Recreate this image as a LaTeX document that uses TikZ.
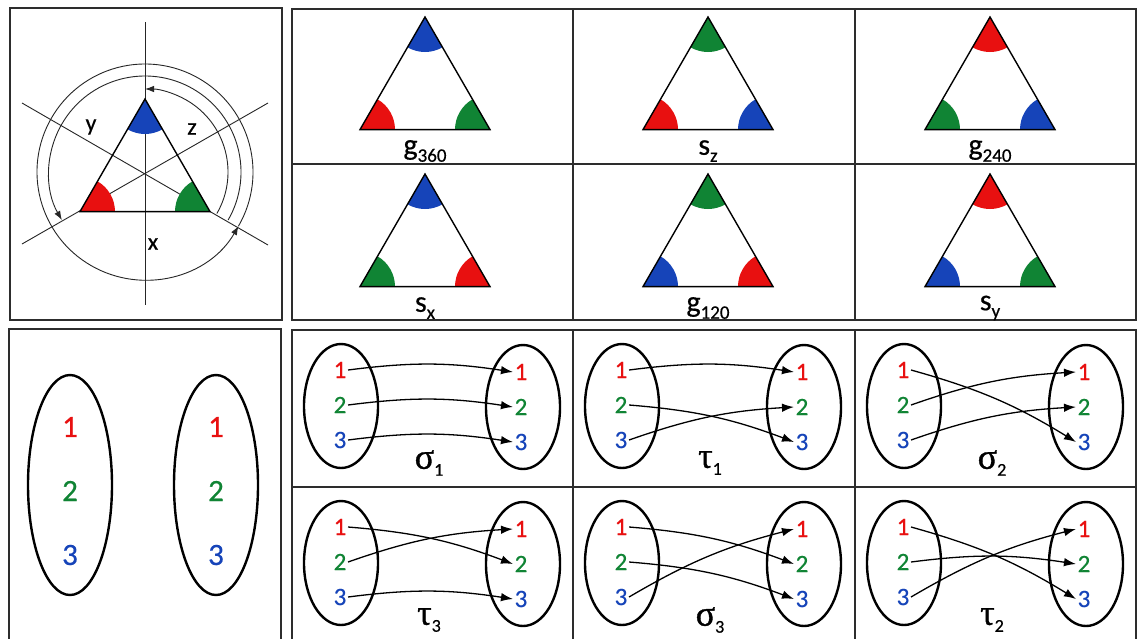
\documentclass[tikz,border=0pt]{standalone}
\usepackage{fontspec}
\setmainfont{Carlito}[FakeBold=0.5]
\newfontfamily\grk{Liberation Serif}[FakeBold=1]
\usetikzlibrary{arrows.meta}
\definecolor{cr}{RGB}{232,16,16}
\definecolor{cg}{RGB}{16,132,52}
\definecolor{cb}{RGB}{22,68,185}
\definecolor{frm}{RGB}{45,45,45}
\newcommand\sublab[2]{#1\raisebox{-7pt}{\fontsize{19}{19}\selectfont #2}}
\newcommand\grklab[2]{{\grk\fontsize{36}{36}\selectfont #1}\raisebox{-7pt}{\fontsize{18}{18}\selectfont #2}}
\newcommand\trianglecell[7]{%
 \begin{scope}[shift={(#1,#2)}]
  \fill[#3] (0,0) -- (240:35) arc[start angle=240,end angle=300,radius=35] -- cycle;
  \fill[#4] (-65,-112.6) -- ++(0:35) arc[start angle=0,end angle=60,radius=35] -- cycle;
  \fill[#5] (65,-112.6) -- ++(180:35) arc[start angle=180,end angle=120,radius=35] -- cycle;
  \draw[tri] (0,0) -- (-65,-112.6) -- (65,-112.6) -- cycle;
  \node[tlab] (#7) at (0,-134) {#6};
 \end{scope}}
\newcommand\permcell[7]{%
 \begin{scope}[shift={(#1,-#2)}]
  \draw[ell] (49,-76) ellipse[x radius=37,y radius=62];
  \draw[ell] (231,-77) ellipse[x radius=37,y radius=62];
  \node[num,text=cr] (#7l1) at (48,-40) {1};
  \node[num,text=cg] (#7l2) at (48,-75) {2};
  \node[num,text=cb] (#7l3) at (48,-110) {3};
  \node[num,text=cr] (#7r1) at (229,-42) {1};
  \node[num,text=cg] (#7r2) at (229,-77) {2};
  \node[num,text=cb] (#7r3) at (229,-112) {3};
  \draw[arr] (#7l1.east) to[bend left=8] (#7r#3.west);
  \draw[arr] (#7l2.east) to[bend left=8] (#7r#4.west);
  \draw[arr] (#7l3.east) to[bend left=8] (#7r#5.west);
  \node[inner sep=0pt] (#7lab) at (137,-133) {#6};
 \end{scope}}
\begin{document}
\begin{tikzpicture}[x=1pt,y=1pt,
  frame/.style={draw=frm,line width=1.3pt},
  tri/.style={draw=black,line width=1.4pt,line join=miter},
  tlab/.style={font=\fontsize{30}{30}\selectfont,inner sep=0pt},
  thinline/.style={draw=black!85,line width=0.9pt},
  ell/.style={draw=black,line width=2.4pt},
  num/.style={font=\fontsize{25}{25}\selectfont,inner sep=1.5pt},
  bignum/.style={font=\fontsize{31}{31}\selectfont,inner sep=2pt},
  arr/.style={-{Latex[length=12pt,width=8.5pt]},line width=1.3pt},
  rarr/.style={thinline,-{Latex[length=9pt,width=6.5pt]}},
  axlab/.style={font=\fontsize{24}{24}\selectfont,inner sep=0pt}]
\useasboundingbox (0,0) rectangle (1140,-638);
\clip (0,0) rectangle (1140,-638);
\fill[white] (0,0) rectangle (1140,-638);

% ---------- top-left panel ----------
\draw[frame] (10,-8) rectangle (282,-320);
\coordinate (c0) at (145,-172);
\draw[thinline] (145,-22) -- (145,-305);
\draw[thinline] (22,-103) -- (268,-245);
\draw[thinline] (22,-244) -- (268,-103);
\draw[rarr] ([shift={(-30:83)}]c0) arc[start angle=-30,end angle=90,radius=83];
\draw[rarr] ([shift={(-30:96)}]c0) arc[start angle=-30,end angle=210,radius=96];
\draw[rarr] ([shift={(-30:108)}]c0) arc[start angle=-30,end angle=330,radius=108];
\begin{scope}[shift={(145,-99)}]
  \fill[cb] (0,0) -- (240:35) arc[start angle=240,end angle=300,radius=35] -- cycle;
  \fill[cr] (-65,-112.6) -- ++(0:35) arc[start angle=0,end angle=60,radius=35] -- cycle;
  \fill[cg] (65,-112.6) -- ++(180:35) arc[start angle=180,end angle=120,radius=35] -- cycle;
  \draw[tri] (0,0) -- (-65,-112.6) -- (65,-112.6) -- cycle;
\end{scope}
\node[axlab] (ly) at (91,-127) {y};
\node[axlab] (lz) at (192,-129) {z};
\node[axlab] (lx) at (153,-244) {x};

% ---------- top-right grid ----------
\draw[frame] (292,-9) rectangle (1136,-320);
\draw[frame] (573,-9) -- (573,-320);
\draw[frame] (855,-9) -- (855,-320);
\draw[frame] (292,-164) -- (1136,-164);
\trianglecell{425}{-17}{cb}{cr}{cg}{\sublab{g}{360}}{t1}
\trianglecell{708}{-17}{cg}{cr}{cb}{\sublab{s}{z}}{t2}
\trianglecell{990}{-17}{cr}{cg}{cb}{\sublab{g}{240}}{t3}
\trianglecell{425}{-174}{cb}{cg}{cr}{\sublab{s}{x}}{t4}
\trianglecell{708}{-174}{cg}{cb}{cr}{\sublab{g}{120}}{t5}
\trianglecell{990}{-174}{cr}{cb}{cg}{\sublab{s}{y}}{t6}

% ---------- bottom-left panel ----------
\draw[frame] (9,-329) rectangle (281,-660);
\draw[ell] (70,-485) ellipse[x radius=42,y radius=110];
\draw[ell] (216,-485) ellipse[x radius=42,y radius=110];
\node[bignum,text=cr] (a1) at (70,-427) {1};
\node[bignum,text=cg] (a2) at (70,-491) {2};
\node[bignum,text=cb] (a3) at (70,-555) {3};
\node[bignum,text=cr] (b1) at (216,-427) {1};
\node[bignum,text=cg] (b2) at (216,-491) {2};
\node[bignum,text=cb] (b3) at (216,-555) {3};

% ---------- bottom-right grid ----------
\draw[frame] (292,-330) rectangle (1136,-660);
\draw[frame] (573,-330) -- (573,-660);
\draw[frame] (855,-330) -- (855,-660);
\draw[frame] (292,-487) -- (1136,-487);
\permcell{292}{330}{1}{2}{3}{\grklab{σ}{1}}{pa}
\permcell{573}{330}{1}{3}{2}{\grklab{τ}{1}}{pb}
\permcell{855}{330}{3}{1}{2}{\grklab{σ}{2}}{pc}
\permcell{292}{487}{2}{1}{3}{\grklab{τ}{3}}{pd}
\permcell{573}{487}{2}{3}{1}{\grklab{σ}{3}}{pe}
\permcell{855}{487}{3}{2}{1}{\grklab{τ}{2}}{pf}
\end{tikzpicture}
\end{document}
